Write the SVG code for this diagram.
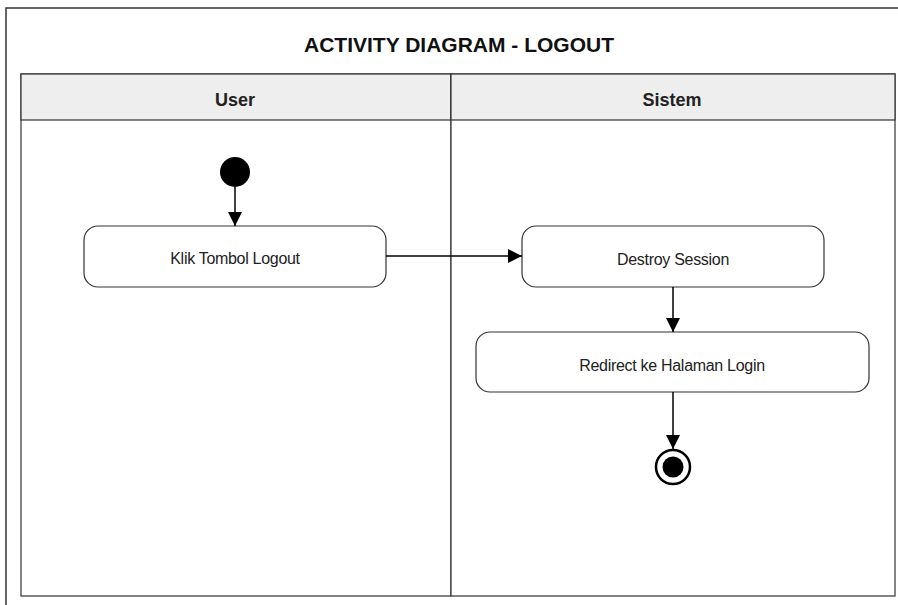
<svg xmlns="http://www.w3.org/2000/svg" width="898" height="605" viewBox="0 0 898 605">
<style>
.frame{fill:none;stroke:#333;stroke-width:1.5}
.lane{fill:#fff;stroke:#333;stroke-width:1.2}
.hdr{fill:#eeeeee;stroke:#333;stroke-width:1.2}
.act{fill:#fff;stroke:#333;stroke-width:1.2}
.lbl{font-family:"Liberation Sans",Arial,sans-serif;font-size:16px;fill:#222;text-anchor:middle;letter-spacing:-0.3px}
.hd{font-family:"Liberation Sans",Arial,sans-serif;font-size:18px;font-weight:bold;fill:#222;text-anchor:middle}
.ttl{font-family:"Liberation Sans",Arial,sans-serif;font-size:21px;font-weight:bold;fill:#111;text-anchor:middle}
.edge{fill:none;stroke:#000;stroke-width:1.5}
</style>
<defs>
<marker id="arr" viewBox="0 0 10 10" refX="10" refY="5" markerWidth="14" markerHeight="14" markerUnits="userSpaceOnUse" orient="auto">
<path d="M0,0 L10,5 L0,10 z" fill="#000"/>
</marker>
</defs>
<rect width="898" height="605" fill="#fff"/>
<path class="frame" d="M6,605 V8 H898"/>
<text class="ttl" x="459" y="52">ACTIVITY DIAGRAM - LOGOUT</text>
<g id="lane-user">
<rect class="lane" x="21" y="74" width="430" height="522"/>
<rect class="hdr" x="21" y="74" width="430" height="46"/>
<text class="hd" x="235" y="106">User</text>
</g>
<g id="lane-sistem">
<rect class="lane" x="451" y="74" width="444" height="522"/>
<rect class="hdr" x="451" y="74" width="444" height="46"/>
<text class="hd" x="672" y="106">Sistem</text>
</g>
<g id="start">
<circle cx="235" cy="172" r="15" fill="#000"/>
</g>
<g id="klik">
<rect class="act" x="84" y="226" width="302" height="61" rx="14"/>
<text class="lbl" x="235" y="264">Klik Tombol Logout</text>
</g>
<g id="destroy">
<rect class="act" x="522" y="226" width="302" height="61" rx="14"/>
<text class="lbl" x="673" y="265">Destroy Session</text>
</g>
<g id="redirect">
<rect class="act" x="476" y="332" width="393" height="60" rx="14"/>
<text class="lbl" x="672" y="371">Redirect ke Halaman Login</text>
</g>
<g id="end">
<circle cx="673" cy="467" r="17" fill="#fff" stroke="#000" stroke-width="2.5"/>
<circle cx="673" cy="467" r="10.5" fill="#000"/>
</g>
<g id="connectors">
<line class="edge" x1="235" y1="187" x2="235" y2="226" marker-end="url(#arr)"/>
<line class="edge" x1="386" y1="256" x2="522" y2="256" marker-end="url(#arr)"/>
<line class="edge" x1="673" y1="287" x2="673" y2="332" marker-end="url(#arr)"/>
<line class="edge" x1="673" y1="392" x2="673" y2="449" marker-end="url(#arr)"/>
</g>
</svg>
